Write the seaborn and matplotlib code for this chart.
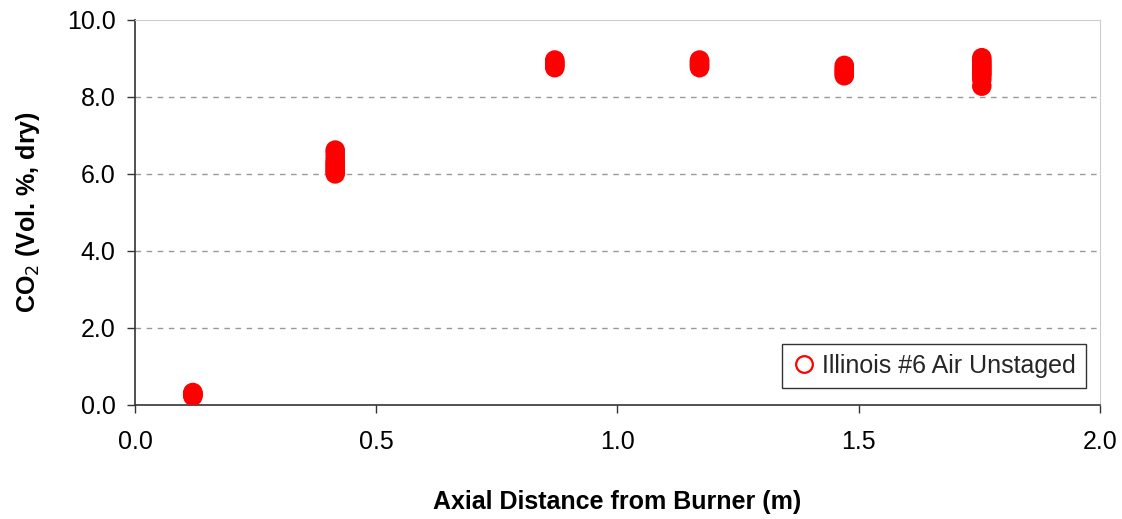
import matplotlib
matplotlib.use("Agg")
import matplotlib.pyplot as plt
import pandas as pd
import seaborn as sns

SERIES_NAME = "Illinois #6 Air Unstaged"

# axial sampling positions (m) and the CO2 readings taken at each
POSITIONS = [0.12, 0.415, 0.87, 1.17, 1.47, 1.755]
CO2_AT_0 = [0.22, 0.25, 0.28, 0.30, 0.32]
CO2_AT_1 = [6.00, 6.05, 6.10, 6.15, 6.20, 6.25, 6.30, 6.35, 6.45, 6.55, 6.62]
CO2_AT_2 = [8.76, 8.80, 8.84, 8.88, 8.92, 8.96]
CO2_AT_3 = [8.76, 8.80, 8.84, 8.88, 8.92, 8.96]
CO2_AT_4 = [8.55, 8.60, 8.65, 8.70, 8.75, 8.82]
CO2_AT_5 = [8.28, 8.45, 8.55, 8.60, 8.65, 8.70, 8.75, 8.80, 8.85, 8.90, 8.95, 9.02]

readings = [CO2_AT_0, CO2_AT_1, CO2_AT_2, CO2_AT_3, CO2_AT_4, CO2_AT_5]
rows = []
for pos, vals in zip(POSITIONS, readings):
    for v in vals:
        rows.append({"x": pos, "co2": v, "series": SERIES_NAME})
df = pd.DataFrame(rows)

sns.set_theme(style="white")
plt.rcParams["font.family"] = ["Liberation Sans", "DejaVu Sans"]

fig = plt.figure(figsize=(11.22, 5.19), dpi=100)
ax = fig.add_axes([0.1203, 0.22, 0.8601, 0.7415])

sns.scatterplot(data=df, x="x", y="co2", hue="series", palette=["#ff0000"],
                marker="o", s=150, facecolors="none", edgecolor="#ff0000",
                linewidth=1.8, ax=ax, zorder=3, legend=False)

ax.set_xlim(0, 2.0)
ax.set_ylim(0, 10.0)
ax.set_xticks([0.0, 0.5, 1.0, 1.5, 2.0])
ax.set_yticks([0.0, 2.0, 4.0, 6.0, 8.0, 10.0])
ax.xaxis.set_major_formatter(matplotlib.ticker.FormatStrFormatter("%.1f"))
ax.yaxis.set_major_formatter(matplotlib.ticker.FormatStrFormatter("%.1f"))
ax.tick_params(axis="both", labelsize=18, labelcolor="black", direction="out",
               length=6, width=1, color="#333333", bottom=True, left=True)
ax.tick_params(axis="x", pad=12)
ax.tick_params(axis="y", pad=8)

for y in [2.0, 4.0, 6.0, 8.0]:
    ax.axhline(y, color="#999999", linestyle=(0, (4, 4)), linewidth=1, zorder=1)

for side in ["left", "bottom"]:
    ax.spines[side].set_color("#333333")
    ax.spines[side].set_linewidth(1.2)
for side in ["top", "right"]:
    ax.spines[side].set_color("#cccccc")
    ax.spines[side].set_linewidth(0.8)

ax.set_xlabel("Axial Distance from Burner (m)", fontsize=18, fontweight="bold",
              color="black", labelpad=26)
ax.set_ylabel("CO$_2$ (Vol. %, dry)", fontsize=18, fontweight="bold",
              color="black", labelpad=18)

handle = plt.Line2D([], [], linestyle="none", marker="o", markersize=12,
                    markerfacecolor="none", markeredgecolor="#ff0000",
                    markeredgewidth=1.6)
leg = ax.legend([handle], [SERIES_NAME], loc="lower right",
                bbox_to_anchor=(0.985, 0.045), fontsize=18, frameon=True,
                fancybox=False, handletextpad=0.2, handlelength=1.0,
                borderpad=0.4, borderaxespad=0)
leg.get_frame().set_edgecolor("black")
leg.get_frame().set_linewidth(1.0)

fig.savefig("out.png", dpi=100)
